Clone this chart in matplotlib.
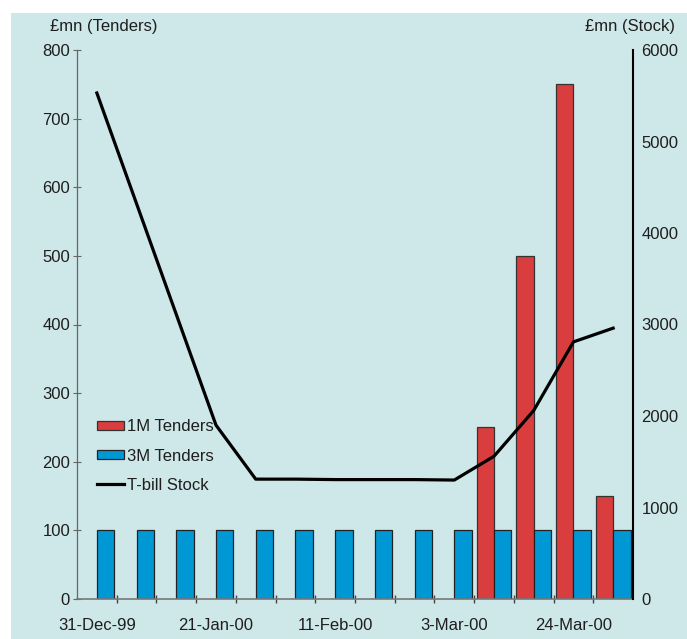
import numpy as np
import matplotlib.pyplot as plt
from matplotlib.patches import Rectangle

# Weekly tender dates
dates = ['31-Dec-99', '7-Jan-00', '14-Jan-00', '21-Jan-00', '28-Jan-00', '4-Feb-00',
         '11-Feb-00', '18-Feb-00', '25-Feb-00', '3-Mar-00', '10-Mar-00', '17-Mar-00',
         '24-Mar-00', '31-Mar-00']
# Tenders, GBP mn
tenders_1m = [0, 0, 0, 0, 0, 0, 0, 0, 0, 0, 250, 500, 750, 150]
tenders_3m = [100, 100, 100, 100, 100, 100, 100, 100, 100, 100, 100, 100, 100, 100]
# T-bill stock, GBP mn
stock = [5530, 4320, 3110, 1900, 1310, 1310, 1305, 1305, 1305, 1300, 1560, 2060, 2810, 2960]

bg = '#cee7e9'
red = '#d93d3d'
blue = '#0097d5'
txt = '#1e1e1e'
fs = 12

plt.rcParams['font.family'] = ['Liberation Sans', 'DejaVu Sans']

fig = plt.figure(figsize=(6.87, 6.39), dpi=100)
fig.patch.set_facecolor('white')
fig.patches.append(Rectangle((11/687, 0), 1, 1 - 13/639, transform=fig.transFigure,
                             facecolor=bg, edgecolor='none', zorder=-10))

ax = fig.add_axes([77/687, 1 - 599/639, 556/687, 549/639])
ax.set_facecolor('none')
x = np.arange(len(dates))
w = 0.44

m1 = np.array(tenders_1m) > 0
ax.bar(x[m1] - w/2, np.array(tenders_1m)[m1], w, color=red, edgecolor='#333333',
       linewidth=0.9, label='1M Tenders', zorder=2)
ax.bar(x + w/2, tenders_3m, w, color=blue, edgecolor='#222222',
       linewidth=0.9, label='3M Tenders', zorder=2)

ax.set_xlim(-0.5, len(dates) - 0.5)
ax.set_ylim(0, 800)
ax.set_yticks(np.arange(0, 801, 100))
ax.set_xticks(x[::3])
ax.set_xticklabels(dates[::3])
ax.set_xticks(x[:-1] + 0.5, minor=True)
ax.tick_params(axis='x', which='major', length=0, pad=14, labelsize=fs, labelcolor=txt)
ax.tick_params(axis='x', which='minor', direction='inout', length=6, width=1, color='#444444')
ax.tick_params(axis='y', direction='inout', length=6, width=0.8, color='#666666',
               labelsize=fs, labelcolor=txt, pad=2)
for s in ['top', 'right']:
    ax.spines[s].set_visible(False)
ax.spines['left'].set_color('#666666')
ax.spines['left'].set_linewidth(0.9)
ax.spines['bottom'].set_color('#777777')
ax.spines['bottom'].set_linewidth(1.2)

ax2 = ax.twinx()
ax2.plot(x, stock, color='black', linewidth=2.3, label='T-bill Stock', zorder=3)
ax2.set_ylim(0, 6000)
ax2.set_yticks(np.arange(0, 6001, 1000))
ax2.tick_params(axis='y', length=0, pad=6, labelsize=fs, labelcolor=txt)
for s in ['top', 'left', 'bottom']:
    ax2.spines[s].set_visible(False)
ax2.spines['right'].set_color('black')
ax2.spines['right'].set_linewidth(1.5)

fig.text(50/687, 1 - 27/639, '£mn (Tenders)', fontsize=fs, color=txt, va='center', ha='left')
fig.text(675/687, 1 - 27/639, '£mn (Stock)', fontsize=fs, color=txt, va='center', ha='right')

h1, l1 = ax.get_legend_handles_labels()
h2, l2 = ax2.get_legend_handles_labels()
ax.legend(h1 + h2, l1 + l2, loc='upper left', bbox_to_anchor=(0.036, 0.327),
          frameon=False, fontsize=fs, borderpad=0, borderaxespad=0,
          handlelength=1.6, handleheight=0.5, handletextpad=0.2, labelspacing=0.85,
          labelcolor=txt)

fig.savefig('out.png', dpi=100)
